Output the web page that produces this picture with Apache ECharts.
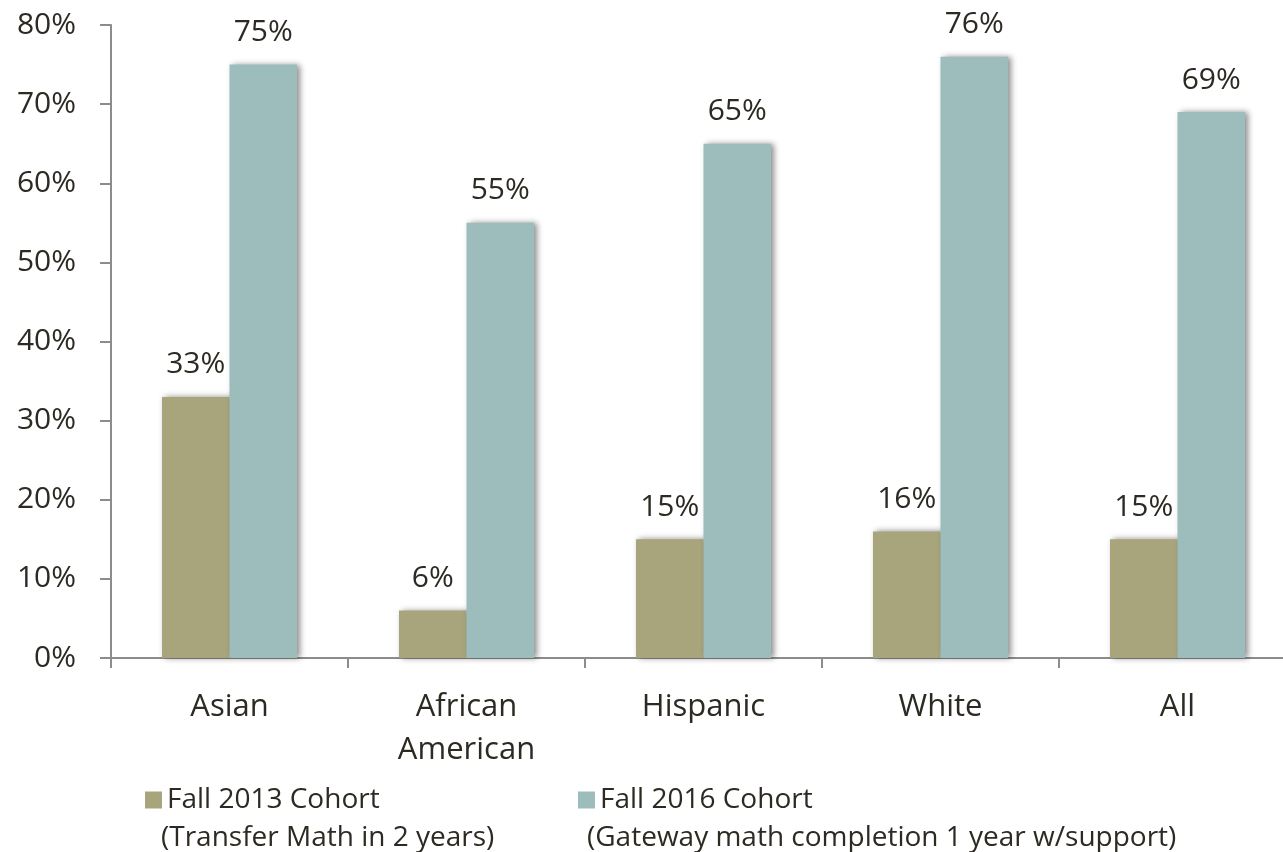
<!DOCTYPE html>
<html>
<head>
<meta charset="utf-8">
<script src="https://cdn.jsdelivr.net/npm/echarts@6/dist/echarts.min.js"></script>
<style>
  html, body { margin: 0; padding: 0; background: #fff; overflow: hidden; }
  /* the plot runs a little past the right edge of the window */
  #chart { width: 1296px; height: 852px; }
</style>
</head>
<body>
<div id="chart"></div>
<script>
// Groups along the x axis
const categories = ['Asian', 'African\nAmerican', 'Hispanic', 'White', 'All'];
// Series names and their explanatory second lines
const seriesNames = ['Fall 2013 Cohort', 'Fall 2016 Cohort'];
const seriesNotes = ['(Transfer Math in 2 years)', '(Gateway math completion 1 year w/support)'];
// Percent values per group
const fall2013 = [33, 6, 15, 16, 15];
const fall2016 = [75, 55, 65, 76, 69];
// Y axis range (percent)
const yMin = 0, yMax = 80, yStep = 10;

const FONT = '"Open Sans", "Noto Sans", sans-serif';
const TEXT = '#2c2a22';
const AXIS = '#8c8c8c';
const colors = ['#a8a57c', '#9dbdbd'];

const chart = echarts.init(document.getElementById('chart'));

const barStyle = (c) => ({
  color: c,
  shadowColor: 'rgba(0,0,0,0.45)',
  shadowBlur: 6,
  shadowOffsetX: 3,
  shadowOffsetY: 0
});

const label = {
  show: true,
  position: 'top',
  distance: 17,
  formatter: '{c}%',
  color: TEXT,
  fontFamily: FONT,
  fontSize: 30
};

chart.setOption({
  animation: false,
  backgroundColor: '#fff',
  grid: { left: 111, top: 25, right: 0, height: 633, containLabel: false },
  xAxis: {
    type: 'category',
    data: categories,
    axisLine: { lineStyle: { color: AXIS, width: 2 } },
    axisTick: { show: true, length: 10, alignWithLabel: false, lineStyle: { color: AXIS, width: 2 } },
    axisLabel: {
      color: TEXT, fontFamily: FONT, fontSize: 31, margin: 28, lineHeight: 43, interval: 0
    }
  },
  yAxis: {
    type: 'value',
    min: yMin, max: yMax, interval: yStep,
    splitLine: { show: false },
    axisLine: { show: true, lineStyle: { color: AXIS, width: 2 } },
    axisTick: { show: true, length: 11, lineStyle: { color: AXIS, width: 2 } },
    axisLabel: {
      formatter: '{value}%', color: TEXT, fontFamily: FONT, fontSize: 30, margin: 35
    }
  },
  legend: [
    {
      data: [seriesNames[0]], left: 140, top: 781,
      itemWidth: 17, itemHeight: 17, icon: 'rect', itemGap: 8,
      textStyle: { color: TEXT, fontFamily: FONT, fontSize: 28 }
    },
    {
      data: [seriesNames[1]], left: 573, top: 781,
      itemWidth: 17, itemHeight: 17, icon: 'rect', itemGap: 8,
      textStyle: { color: TEXT, fontFamily: FONT, fontSize: 28 }
    }
  ],
  graphic: [
    { type: 'text', left: 161, top: 824,
      style: { text: seriesNotes[0], fill: TEXT, font: '28px ' + FONT } },
    { type: 'text', left: 587, top: 824,
      style: { text: seriesNotes[1], fill: TEXT, font: '28px ' + FONT } }
  ],
  series: [
    {
      name: seriesNames[0], type: 'bar', data: fall2013,
      barWidth: 67.5, barGap: '0%',
      itemStyle: barStyle(colors[0]), label
    },
    {
      name: seriesNames[1], type: 'bar', data: fall2016,
      barWidth: 67.5, barGap: '0%',
      itemStyle: barStyle(colors[1]), label
    }
  ]
});
</script>
</body>
</html>
